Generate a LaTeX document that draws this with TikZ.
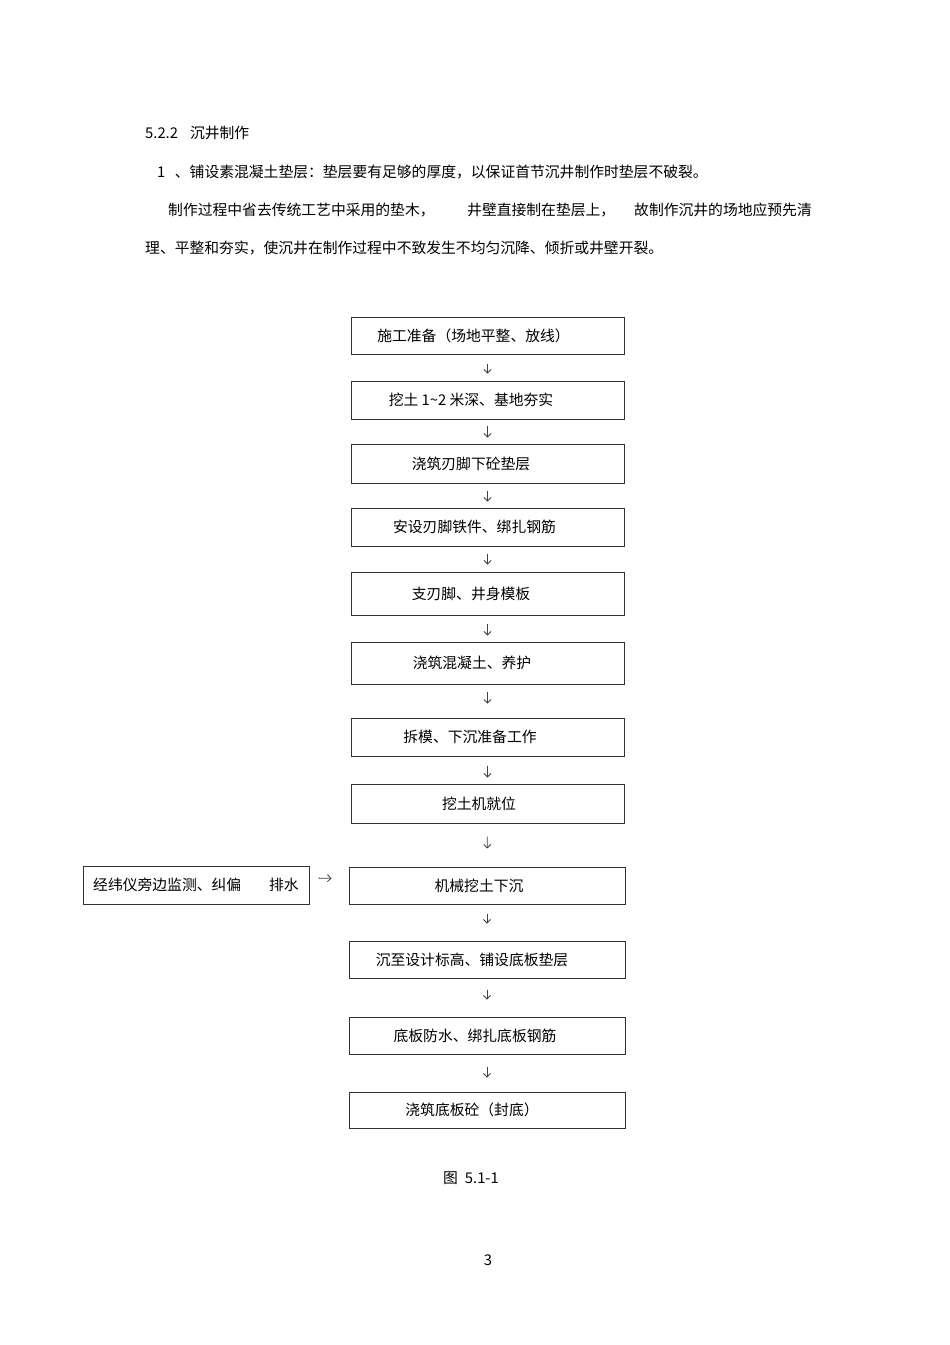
\documentclass[tikz,border=0pt]{standalone}
\usepackage{fontspec}
\setmainfont{Noto Sans CJK SC}
\usetikzlibrary{arrows.meta,positioning}

\newcommand{\bodysize}{\fontsize{14.8pt}{18pt}\selectfont}
\newcommand{\steptext}[3]{\makebox[#1]{#3}\hspace*{#2}}

\tikzset{
	stepbox/.style={draw=black!80, line width=1pt, minimum width=273pt, minimum height=38pt, inner sep=0pt, font=\bodysize},
	widebox/.style={stepbox, minimum width=276pt},
	flow/.style={draw=black!75, line width=0.8pt, -{Straight Barb[length=3.5pt,width=7pt]}},
	plain/.style={anchor=west, inner sep=0pt, font=\bodysize}
}

\begin{document}
\begin{tikzpicture}[x=1pt, y=-1pt]
	\useasboundingbox (0,0) rectangle (950,1345);

	% Heading and paragraph
	\node [plain] (heading) at (145,133) {5.2.2\hspace{12pt}沉井制作};
	\node [plain] (item) at (157,172) {1\hspace{9.5pt}、铺设素混凝土垫层：垫层要有足够的厚度，以保证首节沉井制作时垫层不破裂。};
	\node [plain] (wood) at (168,210) {制作过程中省去传统工艺中采用的垫木，};
	\node [plain] (wall) at (467,210) {井壁直接制在垫层上，};
	\node [plain] (site) at (634,210) {故制作沉井的场地应预先清};
	\node [plain] (result) at (145,248) {理、平整和夯实，使沉井在制作过程中不致发生不均匀沉降、倾折或井壁开裂。};

	% Place nodes
	\node [stepbox, minimum height=37pt] (prep) at (487.5,335.5) {\steptext{245pt}{28pt}{施工准备（场地平整、放线）}};
	\node [stepbox] (dig) at (487.5,400) {\steptext{240pt}{33pt}{挖土 1\textasciitilde2 米深、基地夯实}};
	\node [stepbox, minimum height=39pt] (cushion) at (487.5,463.5) {\steptext{240pt}{33pt}{浇筑刃脚下砼垫层}};
	\node [stepbox] (ironwork) at (487.5,527) {\steptext{247pt}{26pt}{安设刃脚铁件、绑扎钢筋}};
	\node [stepbox, minimum height=43pt] (formwork) at (487.5,593.5) {\steptext{240pt}{33pt}{支刃脚、井身模板}};
	\node [stepbox, minimum height=42pt] (pour) at (487.5,663) {\steptext{242pt}{31pt}{浇筑混凝土、养护}};
	\node [stepbox] (strip) at (487.5,737) {\steptext{238pt}{35pt}{拆模、下沉准备工作}};
	\node [stepbox, minimum height=39pt] (excavator) at (487.5,803.5) {\steptext{256pt}{17pt}{挖土机就位}};
	\node [widebox, minimum height=37pt] (sink) at (487,885.5) {\steptext{260pt}{16pt}{机械挖土下沉}};
	\node [widebox, minimum height=37pt] (bottomlayer) at (487,959.5) {\steptext{246pt}{30pt}{沉至设计标高、铺设底板垫层}};
	\node [widebox, minimum height=37pt] (waterproof) at (487,1035.5) {\steptext{252pt}{24pt}{底板防水、绑扎底板钢筋}};
	\node [widebox, minimum height=36pt] (seal) at (487,1110) {\steptext{246pt}{30pt}{浇筑底板砼（封底）}};
	\node [stepbox, minimum width=226pt] (survey) at (196,885) {经纬仪旁边监测、纠偏\hspace{28pt}排水};

	% Draw edges
	\foreach \a/\b/\s/\e in {prep/dig/9pt/7pt, dig/cushion/6pt/6pt, cushion/ironwork/7pt/6pt,
		ironwork/formwork/7pt/7pt, formwork/pour/8pt/6pt, pour/strip/7pt/14pt,
		strip/excavator/9pt/6pt, excavator/sink/13pt/18pt, sink/bottomlayer/9pt/17pt,
		bottomlayer/waterproof/11pt/17pt, waterproof/seal/12pt/14pt}
		\draw [flow, shorten <=\s, shorten >=\e] (\a) -- (\b);
	\draw [flow, shorten <=9pt, shorten >=17pt] ([yshift=7pt]survey.east) -- ([yshift=7pt]sink.west);

	% Caption
	\node [plain, anchor=center] (caption) at (471,1178) {图\hspace{7pt}5.1-1};
	\node [plain, anchor=center] (pageno) at (488,1260) {3};
\end{tikzpicture}
\end{document}
